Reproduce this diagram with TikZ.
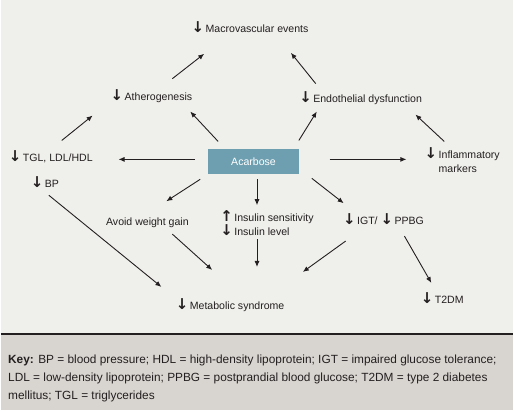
\documentclass[tikz,border=0pt]{standalone}
\usepackage{fontspec}
\setmainfont{Liberation Sans}
\newfontfamily\arrfont{DejaVu Sans}
\usepackage{tikz}
\usetikzlibrary{
    arrows.meta,
    positioning
}
\usepackage{xcolor}
\definecolor{pagebg}{HTML}{EFEFEB}
\definecolor{keybg}{HTML}{D8D5D0}
\definecolor{boxblue}{HTML}{6E9FB1}
\definecolor{inkdark}{HTML}{231F20}
\newcommand{\dn}{{\arrfont\bfseries\fontsize{15}{15}\selectfont\char"2193}\kern1.5pt}
\newcommand{\up}{{\arrfont\bfseries\fontsize{15}{15}\selectfont\char"2191}\kern1.5pt}

\begin{document}
\begin{tikzpicture}[
        x=1pt,
        y=-1pt,
        arr/.style={
            -{Latex[length=6pt,width=5pt]},
            line width=0.9pt,
            draw=inkdark
        },
        lbl/.style={
            inner sep=1pt,
            text=inkdark,
            font=\fontsize{10.6}{14}\selectfont
        },
        drug/.style={
            fill=boxblue,
            minimum width=91pt,
            minimum height=25pt,
            text=white,
            font=\fontsize{10.6}{13}\selectfont
        }
    ]
        % background and key panel
        \fill[pagebg] (0,0) rectangle (514,412);
        \fill[keybg] (0,335) rectangle (514,412);
        \draw[inkdark, line width=2pt] (0,335) -- (514,335);

        % nodes
        \node[lbl] (macro) at (250,27) {\dn Macrovascular events};
        \node[lbl] (athero) at (151,97) {\dn Atherogenesis};
        \node[lbl] (endo) at (361,99) {\dn Endothelial dysfunction};
        \node[lbl] (tgl) at (50,157) {\dn TGL, LDL/HDL};
        \node[lbl] (bp) at (44,183) {\dn BP};
        \node[drug] (acarbose) at (253.5,162) {Acarbose};
        \node[lbl, align=left] (infl) at (463,161)
            {\dn Inflammatory\\\hphantom{\dn}markers};
        \node[lbl] (weight) at (147,224) {Avoid weight gain};
        \node[lbl, align=left] (insulin) at (267,224)
            {\up Insulin sensitivity\\\dn Insulin level};
        \node[lbl] (igt) at (384,220) {\dn IGT/ \dn PPBG};
        \node[lbl] (mets) at (230,306) {\dn Metabolic syndrome};
        \node[lbl] (t2dm) at (443,299) {\dn T2DM};

        % connectors
        \draw[arr] ([shift={(21,-18)}]athero.center) --
            ([shift={(-46,27)}]macro.center);
        \draw[arr] ([shift={(-45,-15)}]endo.center) --
            ([shift={(41,26)}]macro.center);
        \draw[arr] ([shift={(11,-16)}]tgl.center) --
            ([shift={(-59,19)}]athero.center);
        \draw[arr] ([shift={(-35.5,-20)}]acarbose.center) --
            ([shift={(39,15)}]athero.center);
        \draw[arr] ([shift={(45.5,-21)}]acarbose.center) --
            ([shift={(-44,13)}]endo.center);
        \draw[arr] ([shift={(-18,-19)}]infl.center) --
            ([shift={(55,16)}]endo.center);
        \draw[arr] ([shift={(-58.5,-2)}]acarbose.center) --
            ([shift={(68,3)}]tgl.center);
        \draw[arr] ([shift={(76.5,-2)}]acarbose.center) --
            ([shift={(-56,-1)}]infl.center);
        \draw[arr] ([shift={(4,13)}]bp.center) --
            ([shift={(-69,-18)}]mets.center);
        \draw[arr] ([shift={(-53.5,18)}]acarbose.center) --
            ([shift={(19,-22)}]weight.center);
        \draw[arr] ([shift={(3.5,18)}]acarbose.center) --
            ([shift={(-10,-18)}]insulin.center);
        \draw[arr] ([shift={(58.5,17)}]acarbose.center) --
            ([shift={(-40,-16)}]igt.center);
        \draw[arr] ([shift={(25,11)}]weight.center) --
            ([shift={(-18,-35)}]mets.center);
        \draw[arr] ([shift={(-10,16)}]insulin.center) --
            ([shift={(27,-38)}]mets.center);
        \draw[arr] ([shift={(-38,22)}]igt.center) --
            ([shift={(73,-33)}]mets.center);
        \draw[arr] ([shift={(21,17)}]igt.center) --
            ([shift={(-11,-15)}]t2dm.center);

        % key
        \node[lbl, anchor=north west, align=left,
            font=\fontsize{11.9}{18}\selectfont] (key) at (6,355)
            {\textbf{Key:} BP = blood pressure; HDL = high-density lipoprotein; IGT = impaired glucose tolerance;\\
            LDL = low-density lipoprotein; PPBG = postprandial blood glucose; T2DM = type 2 diabetes\\
            mellitus; TGL = triglycerides};
    \end{tikzpicture}
\end{document}
